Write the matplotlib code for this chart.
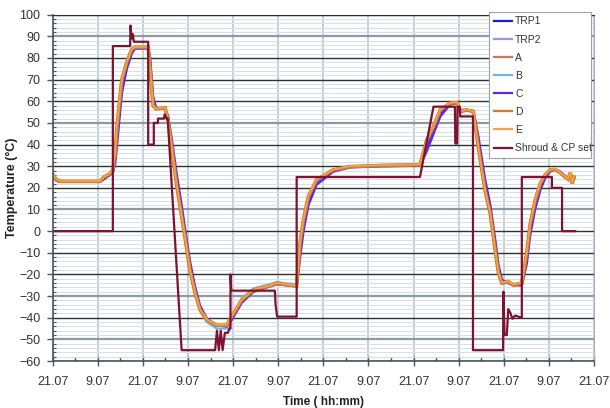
import numpy as np
from matplotlib import pyplot as plt
from matplotlib.ticker import MultipleLocator, FixedLocator

plt.rcParams['font.family'] = ['Liberation Sans', 'DejaVu Sans']

# hours since the first 21:07 mark
t_h = [0.1, 0.9, 1.9, 12.6, 13.6, 15.2, 16.0, 16.6, 17.1, 17.9,
       18.4, 19.7, 21.0, 21.9, 25.4, 25.9, 26.7, 27.5, 29.9, 30.7,
       31.7, 33.0, 34.1, 35.2, 36.5, 37.9, 39.2, 41.0, 43.6, 46.3,
       47.6, 50.3, 53.4, 57.8, 59.6, 62.3, 64.9, 65.8, 66.7, 68.0,
       70.2, 74.6, 79.1, 87.1, 97.7, 99.5, 101.3, 103.1, 105.7, 107.5,
       108.4, 110.2, 111.9, 113.2, 115.0, 116.4, 117.7, 118.6, 119.5, 121.2,
       122.5, 124.8, 126.1, 127.0, 128.3, 129.7, 131.0, 132.3, 133.6, 135.0,
       136.3, 137.1, 137.7, 138.2, 138.7]

trp1 = [25.5, 23.5, 22.8, 22.8, 24.2, 26, 27.5, 33, 43, 58,
        67, 76.5, 83, 84.5, 84.5, 78, 60, 56.5, 56.5, 52,
        40, 23.5, 11.5, -0.5, -16, -27.5, -35.5, -40.5, -43.5, -43.8,
        -40.5, -32.5, -27.6, -25.4, -24.2, -24.9, -25.4, -9, 2.5, 14,
        22.5, 27.8, 29.6, 30.1, 30.4, 39.5, 46.5, 54.5, 58.8, 59.3,
        55.6, 56, 55.4, 41.5, 21.5, 10, -6, -17.5, -23.5, -23.6,
        -24.9, -24.5, -12.5, 0.5, 12, 20.5, 25.3, 28, 28.5, 27.2,
        25.2, 24, 26, 22.5, 24.8]

trp2 = [25.8, 23.7, 22.9, 22.9, 24.6, 26.2, 27.7, 34.5, 45.5, 60,
        68.5, 77.3, 83.5, 84.8, 84.8, 76.5, 59, 56.5, 56.8, 51.5,
        39, 22, 10, -2, -17, -28, -36, -40.8, -43.6, -43.6,
        -40, -32, -27.4, -25.3, -24.1, -24.9, -25.3, -7.5, 4, 15,
        23, 28, 29.7, 30.2, 30.5, 41, 47.5, 55.3, 59, 59.4,
        55.4, 56, 55.3, 40, 20, 9, -7.5, -18.5, -23.8, -23.5,
        -24.9, -24.2, -11, 2, 13, 21.3, 25.7, 28.2, 28.5, 27.1,
        25.1, 24, 26.5, 22.2, 24.9]

sens_a = [26, 24, 23, 23, 25, 26.5, 28, 36.5, 48.5, 62.5,
          70.5, 78.2, 84, 85, 85, 74.5, 58, 56.5, 57, 50.5,
          37.5, 20.5, 8.5, -3.5, -18.5, -29, -36.6, -41.2, -43.6, -43.5,
          -39.3, -31.5, -27.1, -25.2, -24, -24.9, -25.2, -5, 5.5, 16.3,
          23.8, 28.4, 29.8, 30.3, 30.6, 42.5, 48.6, 56.2, 59.2, 59.5,
          55.2, 56, 55.2, 38.5, 18.5, 7.5, -9, -19.8, -24.1, -23.3,
          -24.9, -24, -9.5, 3.5, 14.3, 22.2, 26.1, 28.3, 28.5, 27,
          25, 24, 27, 22, 25]

sens_b = [25.8, 23.8, 22.8, 22.8, 24.8, 26.3, 27.8, 35.5, 47.5, 61.5,
          69.5, 77.8, 83.8, 84.8, 84.8, 75.5, 58.5, 56.3, 56.8, 51.2,
          38.5, 21.5, 9.5, -2.5, -17.5, -28.5, -36.8, -42, -45, -45,
          -40.5, -31, -26.5, -24.5, -23.5, -24.2, -24.5, -6, 4.8, 15.5,
          23.5, 28.3, 30, 30.6, 31, 41.5, 48, 55.8, 59, 59.3,
          55.3, 56, 55.3, 39.5, 19.5, 8.5, -8, -19, -23.5, -23,
          -24.5, -23.8, -10.5, 2.5, 13.5, 21.8, 25.8, 28.2, 28.6, 27.2,
          25.2, 24.2, 26.8, 22.3, 24.8]

sens_c = [25.5, 23.5, 22.8, 22.8, 24, 26, 27, 31, 40, 55,
          64, 75, 82, 84.5, 84.5, 80, 62, 57, 56.5, 53,
          42, 26, 14, 1, -14, -26, -34.5, -40.5, -43.5, -44,
          -41, -33, -28, -25.5, -24.5, -25, -25.5, -12, 0, 12,
          21.5, 27.5, 29.5, 30, 30.3, 37, 45, 53, 58.5, 59.2,
          56, 56, 55.5, 44, 24, 12, -4, -16, -22.5, -24,
          -25, -25, -15, -2, 10, 19, 24.5, 27.5, 28.5, 27.5,
          25.5, 24, 25.5, 23, 24.5]

sens_d = [26, 24, 23, 23, 25, 26.5, 28, 36, 48, 62,
          70, 78, 84, 85, 85, 75, 58, 56.5, 57, 51,
          38, 21, 9, -3, -18, -28.7, -36.4, -41, -43.5, -43.4,
          -39.5, -31.8, -27.2, -25.3, -24, -24.9, -25.3, -5.6, 5.2, 16,
          23.7, 28.3, 29.8, 30.3, 30.6, 42, 48.3, 56, 59.1, 59.4,
          55.2, 56, 55.2, 39, 19, 8, -8.7, -19.5, -24, -23.3,
          -24.9, -24, -10, 3, 14, 22, 26, 28.3, 28.5, 27,
          25, 24, 27, 22, 25]

sens_e = [26.2, 24.2, 23.1, 23.1, 25.1, 26.6, 28.2, 36.2, 48.2, 62.2,
          70.2, 78.1, 84.1, 85.1, 85.1, 75.2, 58.2, 56.6, 57.1, 51.2,
          38.2, 21.2, 9.2, -2.8, -17.8, -28.5, -36.2, -40.8, -43.3, -43.2,
          -39.3, -31.6, -27, -25.1, -23.8, -24.7, -25.1, -5.4, 5.4, 16.2,
          23.9, 28.5, 30, 30.5, 30.8, 42.2, 48.5, 56.2, 59.3, 59.6,
          55.4, 56.2, 55.4, 39.2, 19.2, 8.2, -8.5, -19.3, -23.8, -23.1,
          -24.7, -23.8, -9.8, 3.2, 14.2, 22.2, 26.2, 28.5, 28.7, 27.2,
          25.2, 24.2, 27.2, 22.2, 25.2]

# shroud & cold plate setpoint (step profile)
set_t = [0, 16.0, 16.0, 20.6, 20.7, 21.0, 21.3, 21.6, 25.4, 25.4,
         26.9, 26.9, 28.0, 28.0, 29.6, 29.8, 30.3, 30.6, 34.3, 43.2,
         43.7, 44.2, 44.7, 45.2, 45.8, 46.6, 47.0, 47.3, 47.3, 47.5,
         59.1, 59.3, 59.7, 64.9, 64.9, 97.7, 101.3, 107.0, 107.1, 107.6,
         107.7, 108.3, 108.4, 111.8, 111.8, 119.8, 119.9, 120.2, 120.8, 121.2,
         121.8, 122.3, 123.0, 124.8, 124.8, 132.8, 132.8, 135.5, 135.5, 139.0]
set_v = [0, 0, 85.5, 85.5, 95, 89, 91, 87.5, 87.5, 40,
         40, 50, 50, 52, 52, 54, 52, 52, -55, -55,
         -46, -55, -46, -55, -47, -47, -45, -45, -20, -27.5,
         -27.5, -34, -39.5, -39.5, 25, 25, 57.5, 57.5, 40.5, 40.5,
         57.5, 57.5, 53, 53, -55, -55, -28, -48, -48, -36,
         -38, -40.5, -39, -40, 25, 25, 20, 20, 0, 0]

tick_labels = ['21.07', '9.07'] * 6 + ['21.07']

fig = plt.figure(figsize=(6.1, 4.08), dpi=100)
ax = fig.add_axes([52.7/610, 1-361/408, (594-52.7)/610, (361-14.7)/408])

series = [
    ('TRP1', trp1, '#1a1ad0', 1.6),
    ('TRP2', trp2, '#9c92f2', 1.6),
    ('A', sens_a, '#c27a62', 1.6),
    ('B', sens_b, '#6fb2f2', 1.6),
    ('C', sens_c, '#5b2ae6', 1.8),
    ('D', sens_d, '#d57a1f', 2.6),
    ('E', sens_e, '#eda452', 1.3),
]
for name, vals, col, lw in series:
    ax.plot(t_h, vals, color=col, lw=lw, label=name, solid_joinstyle='miter')
ax.plot(set_t, set_v, color='#7d1232', lw=1.6, label='Shroud & CP set')

ax.set_xlim(0, 144)
ax.set_ylim(-60, 100)
ax.xaxis.set_major_locator(FixedLocator(np.arange(0, 145, 12)))
ax.set_xticklabels(tick_labels)
ax.xaxis.set_minor_locator(FixedLocator(np.arange(6, 144, 12)))
ax.yaxis.set_major_locator(MultipleLocator(10))
ax.yaxis.set_minor_locator(MultipleLocator(2))

ax.grid(which='minor', axis='y', color='#d8dfe6', lw=0.8)
ax.grid(which='major', axis='y', color='#27323a', lw=1.0)
ax.grid(which='major', axis='x', color='#c6ced6', lw=1.4)
ax.set_axisbelow(True)
for val, gl in zip(ax.get_yticks(), ax.get_ygridlines()):
    if round(val) in (90, 50, 10, -30, -50):
        gl.set_color('#8d99a5')
        gl.set_linewidth(1.6)

ax.tick_params(axis='x', which='major', direction='inout', length=7, width=1,
               color='#4a5560', labelsize=9, labelcolor='#333333', pad=7)
ax.tick_params(axis='x', which='minor', direction='in', length=3, width=1, color='#4a5560')
ax.tick_params(axis='y', which='major', direction='out', length=4, width=1,
               color='#4a5560', labelsize=9, labelcolor='#333333', pad=5)
ax.tick_params(axis='y', which='minor', direction='in', length=2, width=0.8, color='#4a5560')

for side in ('left', 'bottom'):
    ax.spines[side].set_color('#4a5560')
    ax.spines[side].set_linewidth(1.2)
ax.spines['top'].set_color('#27323a')
ax.spines['right'].set_color('#a8b0b8')
ax.spines['right'].set_linestyle((0, (2, 1)))

ax.set_xlabel('Time ( hh:mm)', fontsize=8.5, fontweight='bold', color='#222222', labelpad=6)
ax.set_ylabel('Temperature (°C)', fontsize=9, fontweight='bold', color='#222222', labelpad=1)

leg = fig.legend(loc='upper left',
                 bbox_to_anchor=(489/610, 1-152/408, (591-489)/610, (152-11.7)/408),
                 mode='expand', fontsize=7.5, handlelength=1.8, handletextpad=0.25,
                 labelspacing=0.78, borderpad=0.45, fancybox=False, framealpha=1,
                 edgecolor='#9aa3ad', borderaxespad=0)
leg.get_frame().set_linewidth(0.8)
for txt in leg.get_texts():
    txt.set_color('#333333')
for line in leg.get_lines():
    line.set_linewidth(1.6)

fig.savefig('out.png', dpi=100)
